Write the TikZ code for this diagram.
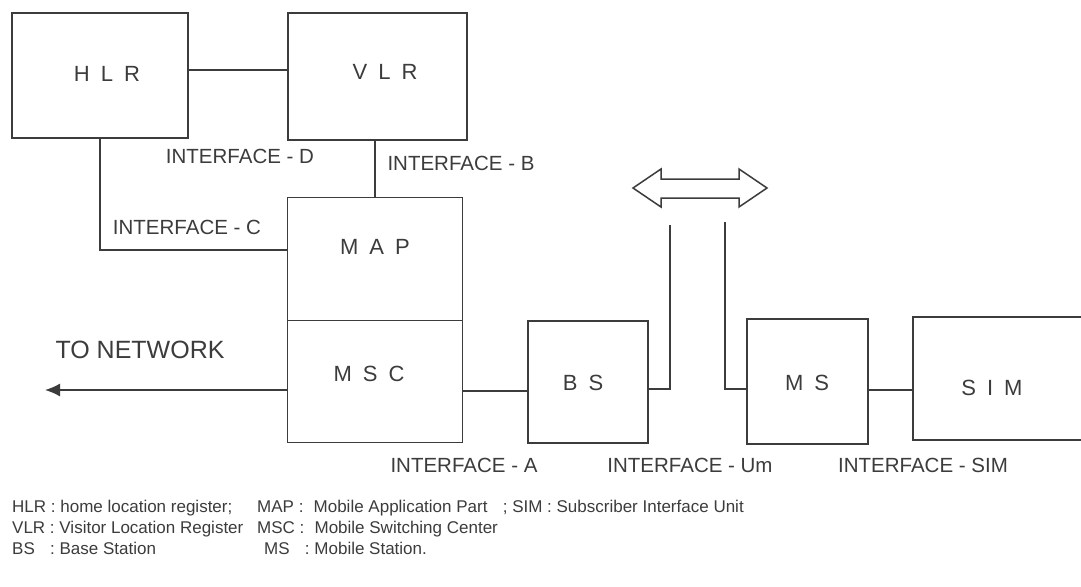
\documentclass[tikz,border=0pt]{standalone}
\usepackage{fontspec}
\setmainfont{Liberation Sans}
\usetikzlibrary{arrows.meta}
\definecolor{ink}{HTML}{3C3C3C}
\newcommand\lgap{\hspace{0.5em}}
\begin{document}
\begin{tikzpicture}[x=1pt,y=-1pt,
 box/.style={draw=ink, line width=1.5pt, inner sep=0pt},
 lbl/.style={text=ink, font=\fontsize{22}{25}\selectfont, inner sep=0pt},
 ifc/.style={text=ink, font=\fontsize{20.5}{23}\selectfont, inner sep=0pt},
 leg/.style={text=ink, font=\fontsize{17}{20}\selectfont, inner sep=0pt, anchor=base west},
 wire/.style={draw=ink, line width=1.4pt}]
\clip (0,0) rectangle (1081,586);
\fill[white] (0,0) rectangle (1081,586);

% boxes
\node[box, minimum width=176pt, minimum height=125pt] (HLR) at (100,75.5) {};
\node[box, minimum width=179pt, minimum height=127pt] (VLR) at (377.5,76.5) {};
\node[box, minimum width=175pt, minimum height=123pt] (MAP) at (375,259) {};
\node[box, minimum width=175pt, minimum height=122pt] (MSC) at (375,381.5) {};
\node[box, minimum width=120pt, minimum height=122pt] (BS) at (588,382) {};
\node[box, minimum width=121pt, minimum height=125pt] (MS) at (807.5,381.5) {};
\node[box, minimum width=190pt, minimum height=123pt] (SIM) at (1008,378.5) {};

% box labels
\node[lbl] (tHLR) at (107,74) {H\lgap L\lgap R};
\node[lbl] (tVLR) at (385,72) {V\lgap L\lgap R};
\node[lbl] (tMAP) at (375,247) {M\lgap A\lgap P};
\node[lbl] (tMSC) at (369,374) {M\lgap S\lgap C};
\node[lbl] (tBS) at (583,383) {B\lgap S};
\node[lbl] (tMS) at (807,383) {M\lgap S};
\node[lbl] (tSIM) at (992,388) {S\lgap I\lgap M};

% interface labels
\node[ifc] (iD) at (240,156) {INTERFACE - D};
\node[ifc] (iB) at (461,163) {INTERFACE - B};
\node[ifc] (iC) at (187,227) {INTERFACE - C};
\node[ifc] (iA) at (464,465) {INTERFACE - A};
\node[ifc] (iUm) at (690,465) {INTERFACE - Um};
\node[ifc] (iSIM) at (923,465) {INTERFACE - SIM};
\node[text=ink, font=\fontsize{25}{28}\selectfont, inner sep=0pt] (tnet) at (140,350) {TO NETWORK};

% connectors
\draw[wire] (HLR.east |- 0,70) -- (VLR.west |- 0,70);
\draw[wire] (MAP.north) -- (MAP.north |- VLR.south);
\draw[wire] (HLR.south) |- (MAP.west |- 0,250);
\coordinate (net) at (45,390);
\draw[wire, -{Latex[length=15pt,width=13pt]}] (MSC.west |- net) -- (net);
\draw[wire] (MSC.east |- 0,391) -- (BS.west |- 0,391);
\coordinate (bsup) at (670,225);
\coordinate (msup) at (725,222);
\draw[wire] (BS.east |- 0,389) -| (bsup);
\draw[wire] (MS.west |- 0,389) -| (msup);
\draw[wire] (MS.east |- 0,390) -- (SIM.west |- 0,390);

% double arrow (radio link)
\draw[draw=ink, line width=1.5pt, line join=miter]
  (633,188) -- (661,169) -- (661,179) -- (739,179) -- (739,169) -- (767,188)
  -- (739,207) -- (739,198) -- (661,198) -- (661,207) -- cycle;

% legend
\node[leg] (L1a) at (12,512) {HLR : home location register;};
\node[leg] (L1b) at (257,512) {MAP :\hspace{0.6em}Mobile Application Part\hspace{0.9em}; SIM : Subscriber Interface Unit};
\node[leg] (L2a) at (12,533) {VLR : Visitor Location Register};
\node[leg] (L2b) at (257,533) {MSC :\hspace{0.6em}Mobile Switching Center};
\node[leg] (L3a) at (12,554) {BS\hspace{0.9em}: Base Station};
\node[leg] (L3b) at (264,554) {MS\hspace{0.9em}: Mobile Station.};
\end{tikzpicture}
\end{document}
